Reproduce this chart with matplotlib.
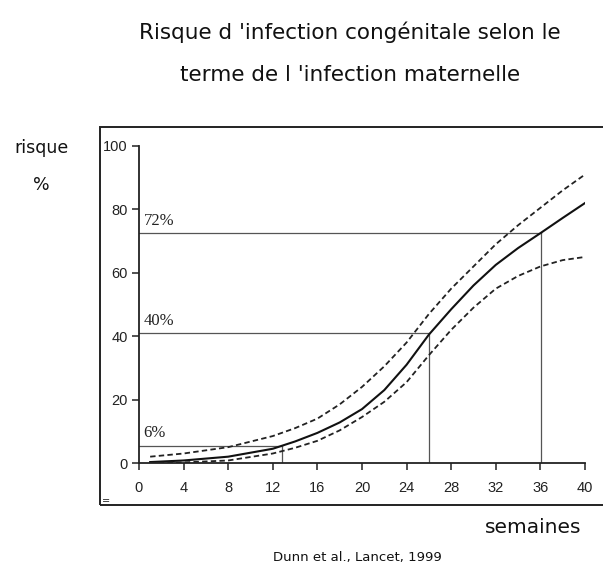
import numpy as np
import matplotlib
matplotlib.use("Agg")
import matplotlib.pyplot as plt
from matplotlib.patches import Rectangle

# data #
weeks_mid = [1, 4, 8, 12, 14, 16, 18, 20, 22, 24, 26, 28, 30, 32, 34, 36, 38, 40]
risk_mid = [0.3, 0.8, 2, 4.5, 6.8, 9.5, 12.8, 17, 23, 31, 40.5, 48.5, 56, 62.5, 67.8, 72.5, 77.3, 82]
weeks_up = [1, 4, 8, 12, 14, 16, 18, 20, 22, 24, 26, 28, 30, 32, 34, 36, 38, 40]
risk_up = [2, 3, 5, 8.5, 11, 14, 18.5, 24, 30.5, 38, 47, 55, 62, 69, 75, 80.5, 86, 91]
weeks_low = [1, 4, 8, 12, 14, 16, 18, 20, 22, 24, 26, 28, 30, 32, 34, 36, 38, 40]
risk_low = [0, 0.2, 0.8, 3, 4.8, 7, 10.3, 14.5, 19.3, 25.5, 34, 42, 49, 55, 59, 62, 64, 65]

ref_weeks = [12.8, 26, 36.1]
ref_risk = [5.5, 41, 72.5]
ref_labels = ["6%", "40%", "72%"]

xticks = list(range(0, 41, 4))
yticks = [0, 20, 40, 60, 80, 100]

fig = plt.figure(figsize=(6.03, 5.65), dpi=100)
fig.patch.set_facecolor("white")

# outer frame (runs off the right edge) #
fig.patches.append(Rectangle((0.166, 0.106), 0.9, 0.669, transform=fig.transFigure,
                             fill=False, lw=1.4, ec="#222222"))

ax = fig.add_axes([0.2305, 0.1805, 0.7396, 0.5611])
ax.set_xlim(0, 40)
ax.set_ylim(0, 100)
for s in ["top", "right"]:
    ax.spines[s].set_visible(False)
for s in ["left", "bottom"]:
    ax.spines[s].set_linewidth(1.3)
    ax.spines[s].set_color("#222222")

# reference lines #
for xw, yr, lab in zip(ref_weeks, ref_risk, ref_labels):
    ax.plot([0, xw], [yr, yr], color="#555555", lw=0.9)
    ax.plot([xw, xw], [0, yr], color="#555555", lw=0.9)
    ax.text(0.4, yr + 1.3, lab, family="Liberation Serif", fontsize=12, color="#222222",
            va="bottom", ha="left")

ax.plot(weeks_mid, risk_mid, color="#111111", lw=1.5)
ax.plot(weeks_up, risk_up, color="#222222", lw=1.3, ls=(0, (3, 1.8)))
ax.plot(weeks_low, risk_low, color="#222222", lw=1.3, ls=(0, (3, 1.8)))

ax.set_xticks(xticks)
ax.set_yticks(yticks)
ax.tick_params(axis="both", direction="out", length=5, width=1.1, colors="#222222",
               labelsize=10.5)
ax.tick_params(axis="x", pad=8)
ax.tick_params(axis="y", pad=3)
for lab in ax.get_xticklabels() + ax.get_yticklabels():
    lab.set_family("Liberation Sans")
    lab.set_color("#222222")

tfont = "DejaVu Sans"
fig.text(0.58, 0.943, "Risque d 'infection congénitale selon le", ha="center", va="center",
         fontsize=15.5, family=tfont, color="#111111")
fig.text(0.58, 0.867, "terme de l 'infection maternelle", ha="center", va="center",
         fontsize=15.5, family=tfont, color="#111111")
fig.text(0.068, 0.738, "risque", ha="center", va="center", fontsize=12.5, family=tfont,
         color="#111111")
fig.text(0.068, 0.673, "%", ha="center", va="center", fontsize=12.5, family=tfont,
         color="#111111")
fig.text(0.884, 0.067, "semaines", ha="center", va="center", fontsize=14.5, family=tfont,
         color="#111111")
fig.text(0.592, 0.014, "Dunn et al., Lancet, 1999", ha="center", va="center", fontsize=9.5,
         family=tfont, color="#111111")
fig.text(0.176, 0.113, "=", ha="center", va="center", fontsize=7, color="#222222")

fig.savefig("out.png", dpi=100, facecolor="white")
